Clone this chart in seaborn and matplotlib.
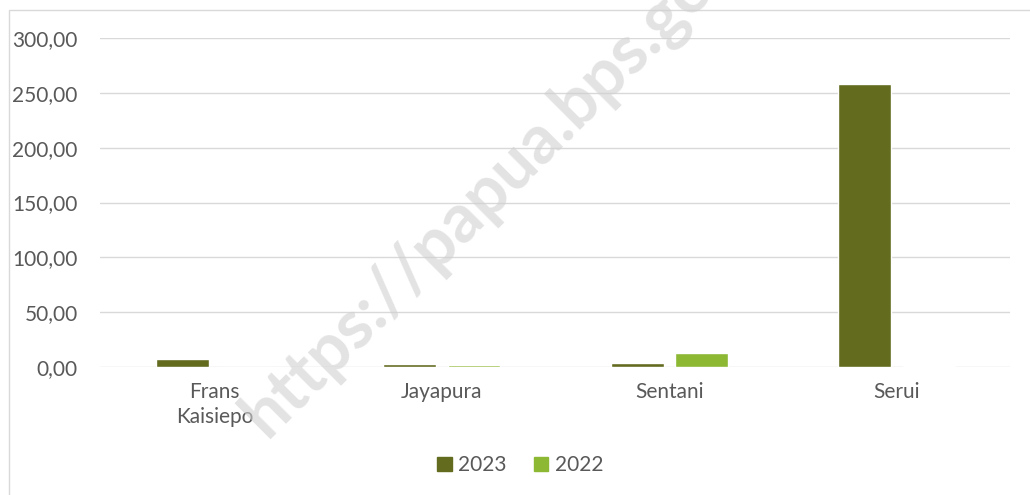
import seaborn as sns
import numpy as np
import pandas as pd
import matplotlib.pyplot as plt
from matplotlib.patches import Rectangle

bandara = ['Frans\nKaisiepo', 'Jayapura', 'Sentani', 'Serui']
tahun = ['2023', '2022']
nilai_2023 = [7.0, 3.0, 3.5, 257.7]
nilai_2022 = [0.0, 2.0, 12.5, 0.5]
warna = ['#636b1e', '#8cb834']

df = pd.DataFrame({
    'bandara': bandara * 2,
    'tahun': [tahun[0]] * 4 + [tahun[1]] * 4,
    'nilai': nilai_2023 + nilai_2022,
})

sns.set_style('white')
plt.rcParams['font.family'] = ['Lato', 'DejaVu Sans']

fig = plt.figure(figsize=(10.3, 4.95), dpi=100)
ax = fig.add_axes([0.097, 0.2586, 0.884, 0.6646])

sns.barplot(data=df, x='bandara', y='nilai', hue='tahun', palette=warna,
            width=0.566, gap=0.18, ax=ax, legend=False, saturation=1)

ax.set_xlim(-0.504, 3.5)
ax.set_ylim(0, 300)
ax.set_yticks(np.arange(0, 301, 50))
ax.set_yticklabels([f'{v:.2f}'.replace('.', ',') for v in np.arange(0, 301, 50)])
ax.yaxis.grid(True, color='#d9d9d9', linewidth=1)
ax.set_axisbelow(True)
for s in ax.spines.values():
    s.set_visible(False)
ax.tick_params(axis='both', length=0, colors='#595959', labelsize=15)
ax.tick_params(axis='y', pad=16)
ax.tick_params(axis='x', pad=11)
for t in ax.get_xticklabels():
    t.set_linespacing(1.3)
ax.set_xlabel('')
ax.set_ylabel('')

handles = [Rectangle((0, 0), 1, 1, color=c) for c in warna]
fig.legend(handles, tahun, loc='center', bbox_to_anchor=(0.505, 0.06), ncol=2,
           frameon=False, fontsize=15, labelcolor='#595959',
           handlelength=0.7, handleheight=0.7, handletextpad=0.3, columnspacing=1.3)

# watermark (cut off at the top, as in the source)
fig.text(0.49, 0.645, 'https://papua.bps.go.id', rotation=45, fontsize=49,
         fontweight='bold', color='#d0d0d0', alpha=0.6, ha='center', va='center',
         zorder=10)

fig.patches.append(Rectangle((9 / 1030, -0.01), 1.0, 1 - 10 / 495 + 0.01,
                             transform=fig.transFigure, fill=False,
                             edgecolor='#d9d9d9', linewidth=1))

plt.savefig('out.png', dpi=100)
